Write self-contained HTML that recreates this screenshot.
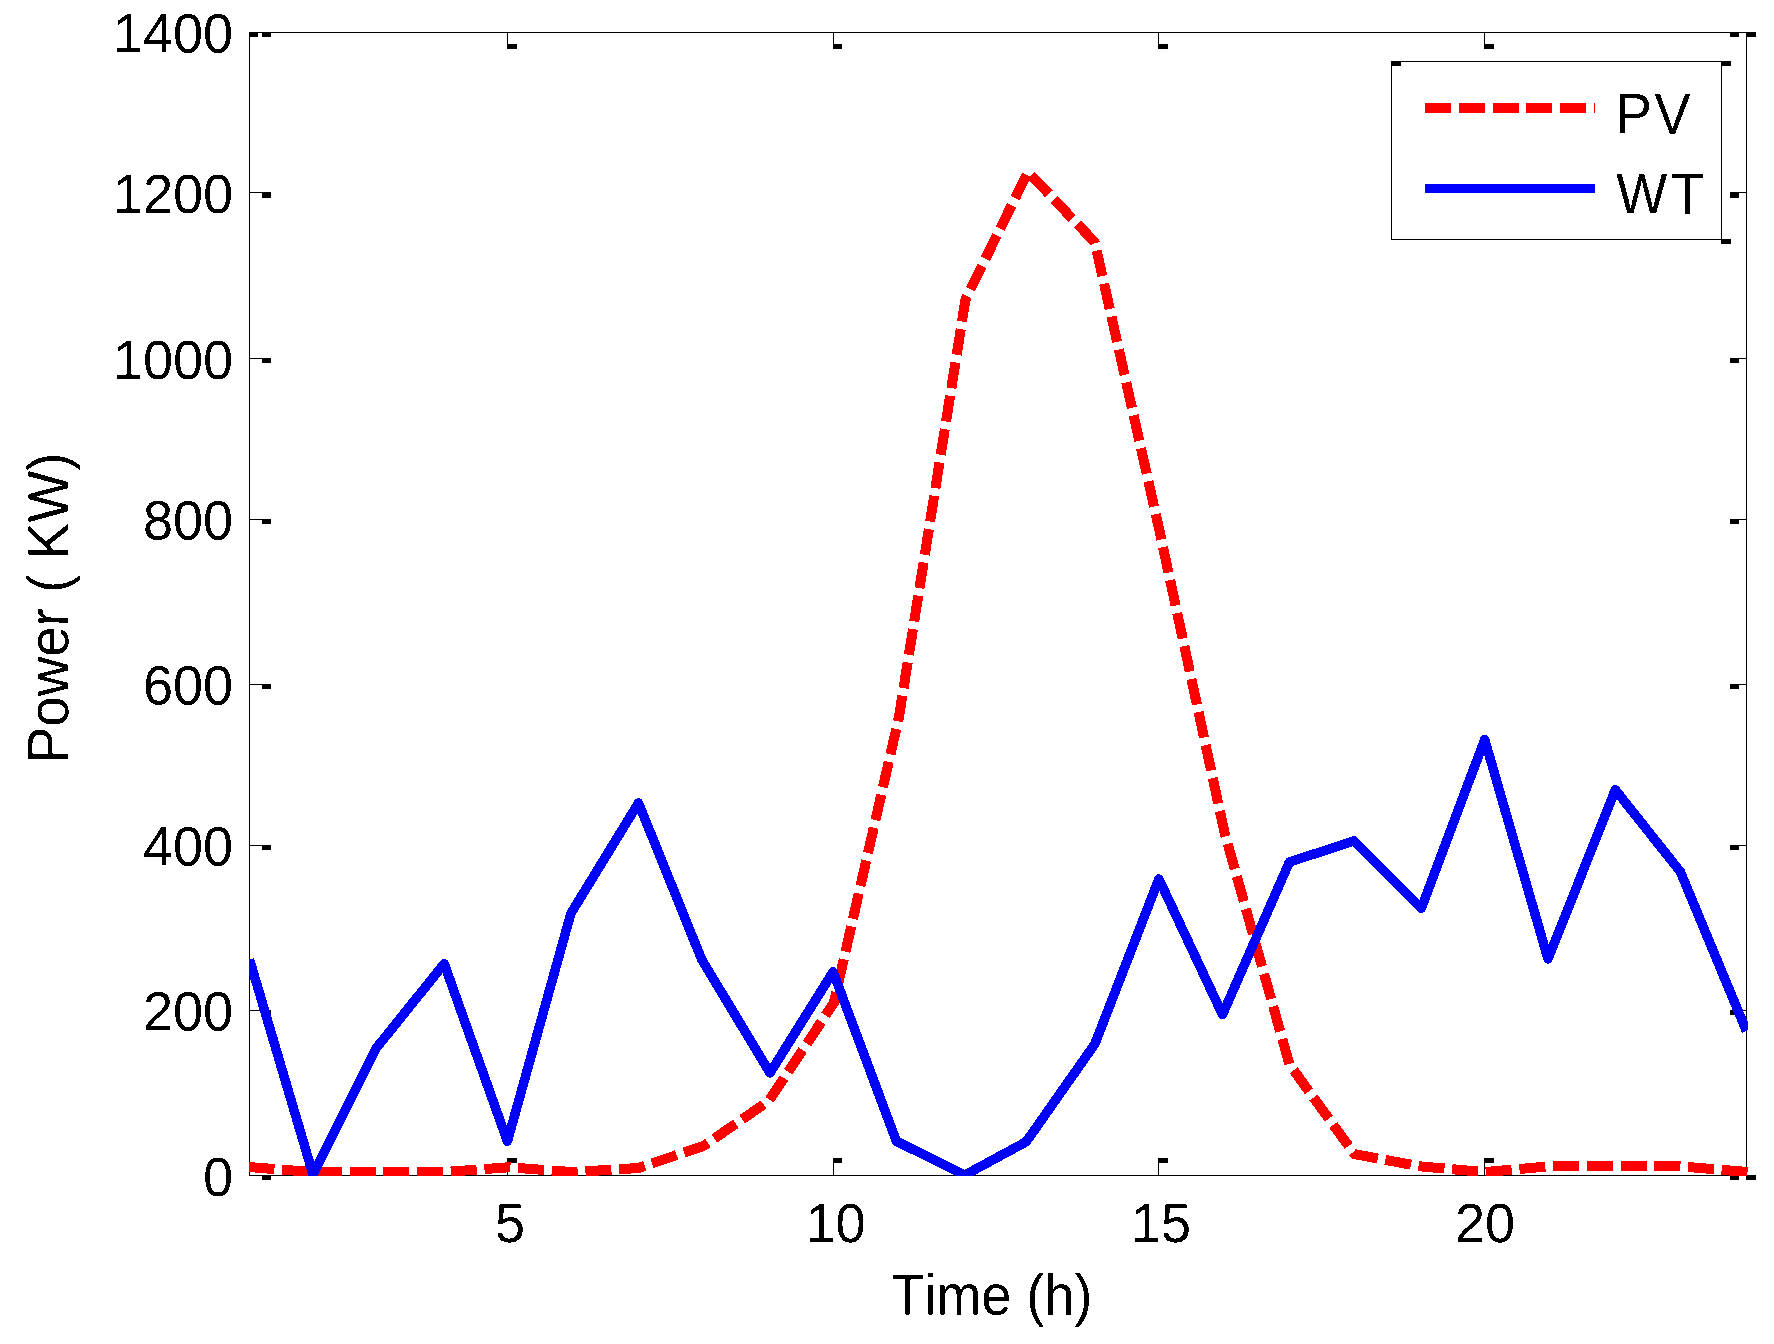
<!DOCTYPE html>
<html lang="en"><head><meta charset="utf-8"><title>PV and WT power</title>
<style>html,body{margin:0;padding:0;background:#fff}body{width:1774px;height:1344px;overflow:hidden}svg{display:block}text{font-family:"Liberation Sans",Arial,Helvetica,sans-serif;fill:#000;font-kerning:none}</style></head><body>
<svg width="1774" height="1344" viewBox="0 0 1774 1344">
<rect x="0" y="0" width="1774" height="1344" fill="#fff"/>
<defs><filter id="na" x="-5%" y="-5%" width="110%" height="110%" color-interpolation-filters="sRGB"><feComponentTransfer><feFuncA type="discrete" tableValues="0 1"/></feComponentTransfer></filter></defs>
<g fill="#000" shape-rendering="crispEdges">
<rect x="249" y="32" width="1498" height="1"/>
<rect x="249" y="1175" width="1498" height="1"/>
<rect x="249" y="32" width="1" height="1144"/>
<rect x="1746" y="32" width="1" height="1144"/>
<rect x="249" y="192" width="22" height="1"/>
<rect x="262" y="192" width="9" height="6"/>
<rect x="1730" y="192" width="17" height="1"/>
<rect x="1730" y="192" width="9" height="6"/>
<rect x="249" y="358" width="22" height="1"/>
<rect x="262" y="358" width="9" height="5"/>
<rect x="1730" y="358" width="17" height="1"/>
<rect x="1730" y="358" width="9" height="5"/>
<rect x="249" y="519" width="22" height="1"/>
<rect x="262" y="519" width="9" height="5"/>
<rect x="1730" y="519" width="17" height="1"/>
<rect x="1730" y="519" width="9" height="5"/>
<rect x="249" y="684" width="22" height="1"/>
<rect x="262" y="684" width="9" height="5"/>
<rect x="1730" y="684" width="17" height="1"/>
<rect x="1730" y="684" width="9" height="5"/>
<rect x="249" y="845" width="22" height="1"/>
<rect x="262" y="845" width="9" height="5"/>
<rect x="1730" y="845" width="17" height="1"/>
<rect x="1730" y="845" width="9" height="5"/>
<rect x="249" y="1010" width="22" height="1"/>
<rect x="262" y="1010" width="9" height="5"/>
<rect x="1730" y="1010" width="17" height="1"/>
<rect x="1730" y="1010" width="9" height="5"/>
<rect x="249" y="32" width="9" height="5"/>
<rect x="262" y="32" width="9" height="5"/>
<rect x="1730" y="32" width="9" height="5"/>
<rect x="1746" y="32" width="10" height="5"/>
<rect x="262" y="1175" width="9" height="5"/>
<rect x="1730" y="1175" width="9" height="5"/>
<rect x="1746" y="1175" width="10" height="5"/>
<rect x="507" y="32" width="1" height="13"/>
<rect x="507" y="44" width="10" height="5"/>
<rect x="507" y="1158" width="1" height="18"/>
<rect x="507" y="1158" width="10" height="5"/>
<rect x="833" y="32" width="1" height="13"/>
<rect x="833" y="44" width="9" height="5"/>
<rect x="833" y="1158" width="1" height="18"/>
<rect x="833" y="1158" width="9" height="5"/>
<rect x="1158" y="32" width="1" height="13"/>
<rect x="1158" y="44" width="10" height="5"/>
<rect x="1158" y="1158" width="1" height="18"/>
<rect x="1158" y="1158" width="10" height="5"/>
<rect x="1484" y="32" width="1" height="13"/>
<rect x="1484" y="44" width="10" height="5"/>
<rect x="1484" y="1158" width="1" height="18"/>
<rect x="1484" y="1158" width="10" height="5"/>
</g>
<clipPath id="c"><rect x="249" y="26" width="1499" height="1150"/></clipPath>
<g clip-path="url(#c)" fill="none" shape-rendering="crispEdges">
<polyline points="248.5,1167.0 313.1,1172.1 378.2,1172.1 443.3,1172.1 508.3,1167.3 573.4,1172.1 638.5,1168.0 703.6,1145.9 768.7,1101.0 833.8,1003.0 898.9,717.3 965.5,299.4 1028.0,171.9 1094.8,242.3 1159.2,529.5 1224.3,831.6 1289.4,1064.3 1354.5,1154.1 1419.6,1166.3 1484.7,1172.1 1549.7,1166.3 1614.8,1166.3 1679.9,1166.3 1748.5,1172.1" stroke="#f00" stroke-width="10" stroke-dasharray="26 7.75" stroke-linejoin="round"/>
<polyline points="249.5,959.4 313.1,1174.7 375.9,1048.6 444.2,963.7 507.4,1141.3 570.9,913.4 638.5,803.0 701.7,959.5 770.0,1072.9 833.1,971.8 896.4,1141.2 964.7,1175.1 1026.2,1141.8 1094.9,1043.9 1158.9,879.0 1222.5,1014.5 1289.4,862.1 1353.9,840.9 1421.3,908.3 1484.7,739.6 1548.0,959.0 1615.3,789.8 1680.4,871.8 1746.4,1030.9" stroke="#00f" stroke-width="9.5" stroke-linejoin="round"/>
</g>
<g shape-rendering="crispEdges">
<rect x="1391.5" y="61.5" width="330" height="178" fill="#fff" stroke="#000" stroke-width="1"/>
<g fill="#000">
<rect x="1391" y="61" width="10" height="5"/>
<rect x="1721" y="61" width="10" height="5"/>
<rect x="1721" y="239" width="10" height="5"/>
</g>
<line x1="1425" y1="108" x2="1595" y2="108" stroke="#f00" stroke-width="10" stroke-dasharray="26 7.75"/>
<line x1="1425" y1="188.5" x2="1595" y2="188.5" stroke="#00f" stroke-width="9"/>
</g>
<g filter="url(#na)">
<text transform="translate(233.1,52.5) rotate(0.05) scale(1,1.03)" font-size="54" text-anchor="end">1400</text>
<text transform="translate(233.1,212.5) rotate(0.05) scale(1,1.03)" font-size="54" text-anchor="end">1200</text>
<text transform="translate(233.1,378.5) rotate(0.05) scale(1,1.03)" font-size="54" text-anchor="end">1000</text>
<text transform="translate(233.1,539.5) rotate(0.05) scale(1,1.03)" font-size="54" text-anchor="end">800</text>
<text transform="translate(233.1,704.5) rotate(0.05) scale(1,1.03)" font-size="54" text-anchor="end">600</text>
<text transform="translate(233.1,865.5) rotate(0.05) scale(1,1.03)" font-size="54" text-anchor="end">400</text>
<text transform="translate(233.1,1030.5) rotate(0.05) scale(1,1.03)" font-size="54" text-anchor="end">200</text>
<text transform="translate(233.1,1195.5) rotate(0.05) scale(1,1.03)" font-size="54" text-anchor="end">0</text>
<text transform="translate(510,1241.7) rotate(0.05) scale(1,1.03)" font-size="54" text-anchor="middle">5</text>
<text transform="translate(835.5,1241.7) rotate(0.05) scale(1,1.03)" font-size="54" text-anchor="middle">10</text>
<text transform="translate(1161,1241.7) rotate(0.05) scale(1,1.03)" font-size="54" text-anchor="middle">15</text>
<text transform="translate(1485,1241.7) rotate(0.05) scale(1,1.03)" font-size="54" text-anchor="middle">20</text>
<text transform="translate(991.8,1314.6) rotate(0.05) scale(1,1.06)" font-size="54" text-anchor="middle">Time (h)</text>
<text transform="translate(68.4,608) rotate(-89.95) scale(1.016,1.06)" font-size="54" text-anchor="middle">Power ( KW)</text>
<text transform="translate(1615.7,133.6) rotate(0.05) scale(1,1.065)" font-size="54" text-anchor="start" x="0 38.9">PV</text>
<text transform="translate(1616.2,213.6) rotate(0.05) scale(1,1.065)" font-size="54" text-anchor="start" x="0 54.8">WT</text>
</g>
</svg></body></html>
